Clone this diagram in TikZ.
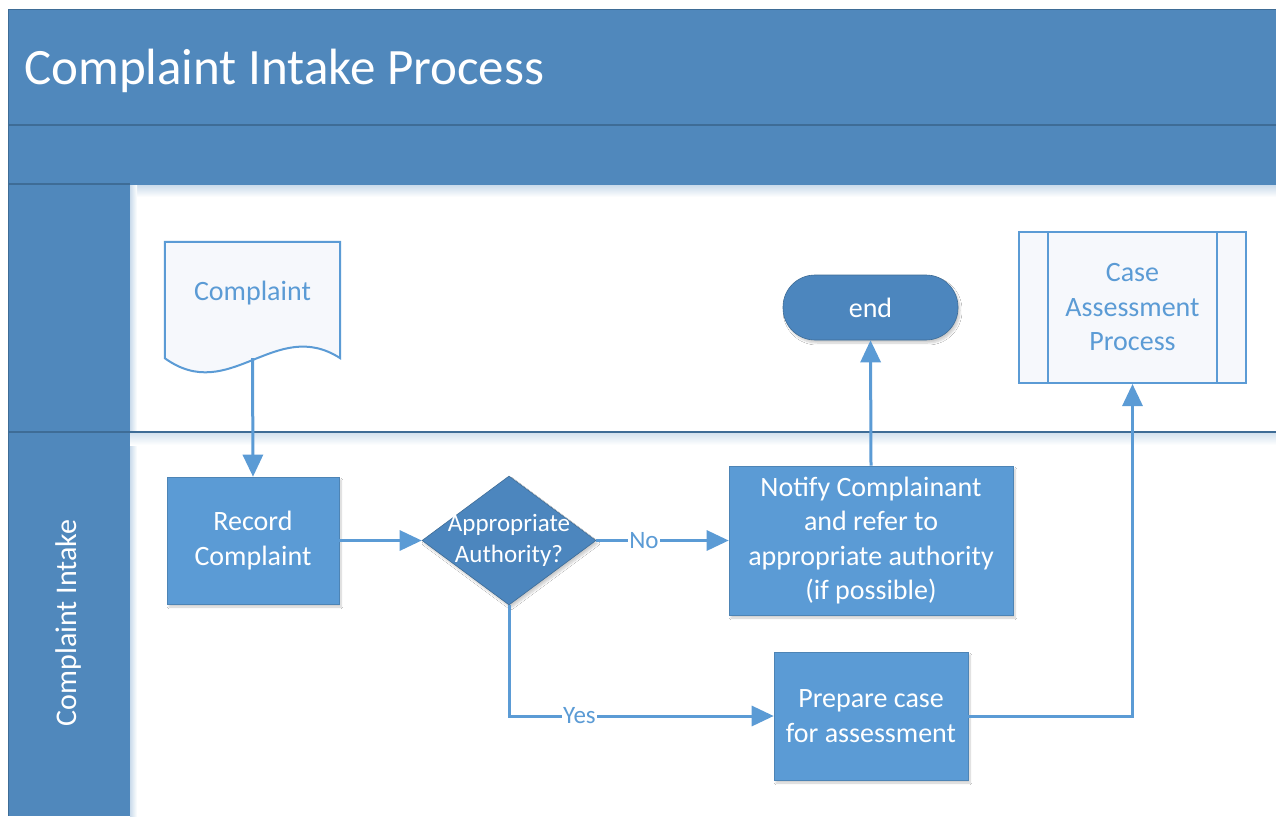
\documentclass[tikz,border=0pt]{standalone}
\usepackage{fontspec}
\setmainfont{Carlito}
\usetikzlibrary{shapes.geometric,arrows.meta,shadows.blur,calc}

\definecolor{band}{RGB}{80,136,188}
\definecolor{bandline}{RGB}{62,108,150}
\definecolor{boxfill}{RGB}{91,155,213}
\definecolor{darkfill}{RGB}{76,134,190}
\definecolor{paper}{RGB}{246,248,252}

\begin{document}
\begin{tikzpicture}[x=1pt,y=-1pt,
  softshadow/.style={blur shadow={shadow blur steps=8, shadow xshift=2pt, shadow yshift=-3pt, shadow opacity=20}},
  bodytext/.style={font=\fontsize{28}{34.5}\selectfont, align=center, inner sep=0pt},
  procbox/.style={bodytext, rectangle, fill=boxfill, draw=boxfill!85!black, line width=0.6pt, text=white, softshadow},
  decision/.style={diamond, fill=darkfill, draw=bandline, line width=0.6pt, inner sep=0pt, softshadow},
  terminal/.style={bodytext, rectangle, rounded corners=32pt, fill=darkfill, draw=bandline, line width=0.6pt, text=white, softshadow},
  subproc/.style={bodytext, rectangle, fill=paper, draw=boxfill, line width=2pt, text=boxfill},
  docline/.style={draw=boxfill, line width=2pt, fill=paper},
  flow/.style={draw=boxfill, line width=3pt, -{Triangle[length=22pt,width=20pt]}},
  lbl/.style={fill=white, inner sep=1pt, text=boxfill, font=\fontsize{25}{30}\selectfont}]

\useasboundingbox (0,0) rectangle (1276,816);
\fill[white] (0,0) rectangle (1276,816);

% pool frame: title band, phase band, lane header column
\fill[band] (8,10) rectangle (1276,816);
\fill[white] (130,185) rectangle (1276,816);
\shade[top color=band!30, bottom color=white] (130,185) rectangle (1276,197);
\shade[left color=band!30, right color=white] (130,185) rectangle (137,816);
\shade[top color=band!25, bottom color=white] (130,433) rectangle (1276,445);
\draw[bandline, line width=1pt] (8,10) -- (1276,10);
\draw[bandline, line width=1pt] (8,10) -- (8,816);
\draw[bandline, line width=1.5pt] (8,125) -- (1276,125);
\draw[bandline, line width=1.2pt] (8,184) -- (130,184);
\draw[bandline, line width=2.6pt] (8,432) -- (1276,432);

\node[anchor=base west, text=white, inner sep=0pt, font=\fontsize{51}{60}\selectfont] (title) at (24,84) {Complaint Intake Process};
\node[rotate=90, text=white, inner sep=0pt, font=\fontsize{30}{36}\selectfont] (lane) at (69,623) {Complaint Intake};

% document shape
\node[minimum width=175pt, minimum height=116pt, inner sep=0pt] (complaint) at (252.5,300) {};
\draw[docline] (complaint.north west) -- (complaint.north east) -- (complaint.south east)
  .. controls +(-65,-42) and +(65,47) .. (complaint.south west) -- cycle;
\node[bodytext, text=boxfill] (complainttext) at ($(complaint.center)+(0,-7)$) {Complaint};

% process steps
\node[procbox, minimum width=172pt, minimum height=127pt] (record) at (253,540.5) {Record\\Complaint};
\node[decision, minimum width=174pt, minimum height=129pt] (dec) at (509,540.5) {};
\node[bodytext, text=white, font=\fontsize{25}{31}\selectfont] (dectext) at (dec.center) {Appropriate\\Authority?};
\node[procbox, minimum width=284pt, minimum height=149pt] (notify) at (871,540.5) {Notify Complainant\\and refer to\\appropriate authority\\(if possible)};
\node[procbox, minimum width=194pt, minimum height=128pt] (prep) at (871,716) {Prepare case\\for assessment};
\node[terminal, minimum width=175pt, minimum height=65pt] (endnode) at (870.5,307.5) {end};
\node[subproc, minimum width=227pt, minimum height=151pt] (case) at (1132.5,307.5) {Case\\Assessment\\Process};
\draw[boxfill, line width=2pt] ($(case.north west)+(30,0)$) -- ($(case.south west)+(30,0)$);
\draw[boxfill, line width=2pt] ($(case.north east)+(-30,0)$) -- ($(case.south east)+(-30,0)$);

% connectors
\draw[flow] (complaint.south) -- (record.north);
\draw[flow] (record.east) -- (dec.west);
\draw[flow] (dec.east) -- node[lbl, pos=0.36] {No} (notify.west);
\draw[flow] (notify.north) -- (endnode.south);
\draw[flow] (dec.south) |- node[lbl, pos=0.633] {Yes} (prep.west);
\draw[flow] (prep.east) -| (case.south);

\end{tikzpicture}
\end{document}
